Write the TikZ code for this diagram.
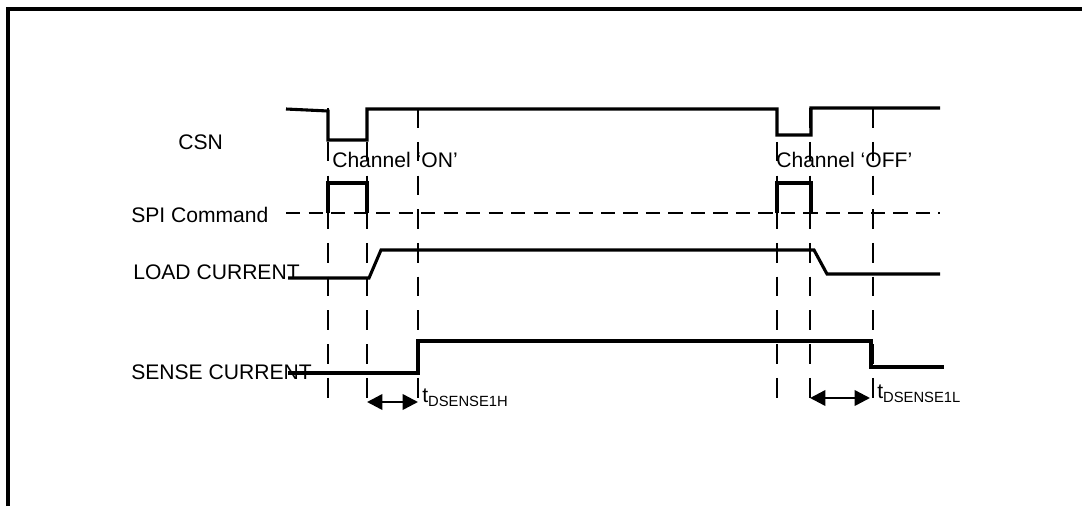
\documentclass[tikz,border=0pt]{standalone}
\usepackage{fontspec}
\setmainfont{Liberation Sans}
\usetikzlibrary{calc,arrows.meta,positioning}

\begin{document}
\begin{tikzpicture}[x=0.025cm,y=-0.025cm]

\tikzset{signal/.style={line width=2.2pt},
marker/.style={line width=1.6pt,dash pattern=on 14pt off 10pt},
spidash/.style={line width=2pt,dash pattern=on 10pt off 6pt},
sigtext/.style={font=\fontsize{15}{18}\selectfont,inner sep=0pt,anchor=base west},
delay/.style={line width=1.8pt,{Triangle[length=11pt,width=11pt]}-{Triangle[length=11pt,width=11pt]}}}

\useasboundingbox (0,0) rectangle (1082,506);

% Frame
\draw[line width=2.2pt] (8,506) -- (8,9) -- (1082,9);

% Time markers
\foreach \x in {328, 367, 418, 777, 810, 873} \draw[marker] (\x,108) -- (\x,405);

% Signal names
\node[sigtext] (csn) at (178,149) {CSN};
\node[sigtext] (spi) at (131,222) {SPI Command};
\node[sigtext] (load) at (133,279) {LOAD CURRENT};
\node[sigtext] (sense) at (131,379) {SENSE CURRENT};

% Commands
\node[sigtext] (chon) at (332,167) {Channel ‘ON’};
\node[sigtext] (choff) at (776,167) {Channel ‘OFF’};

% CSN
\draw[signal] (286,109) -- (328,111) -- (328,140) -- (367,140) -- (367,109) -- (777,109) -- (777,135) -- (811,135) -- (811,108) -- (940,108);

% SPI command
\draw[spidash] (286,213) -- (940,213);
\draw[signal] (328,213) -- (328,183) -- (367,183) -- (367,213);
\draw[signal] (777,213) -- (777,183) -- (811,183) -- (811,213);

% Load current
\draw[signal] (288,278) -- (369,278) -- (381,250) -- (814,250) -- (827,274) -- (940,274);

% Sense current
\draw[signal] (288,373) -- (418,373) -- (418,341) -- (871,341) -- (871,367) -- (944,367);

% Delays
\coordinate (onstart) at (367,402); \coordinate (onend) at (418,402);
\coordinate (offstart) at (810,398); \coordinate (offend) at (870,398);
\draw[delay] (onstart) -- (onend);
\draw[delay] (offstart) -- (offend);
\node[sigtext] (tdh) at (422,402) {t{\fontsize{10.5}{12}\selectfont\raisebox{-3.5pt}{DSENSE1H}}};
\node[sigtext] (tdl) at (877,398) {t{\fontsize{10.5}{12}\selectfont\raisebox{-3.5pt}{DSENSE1L}}};

\end{tikzpicture}
\end{document}
